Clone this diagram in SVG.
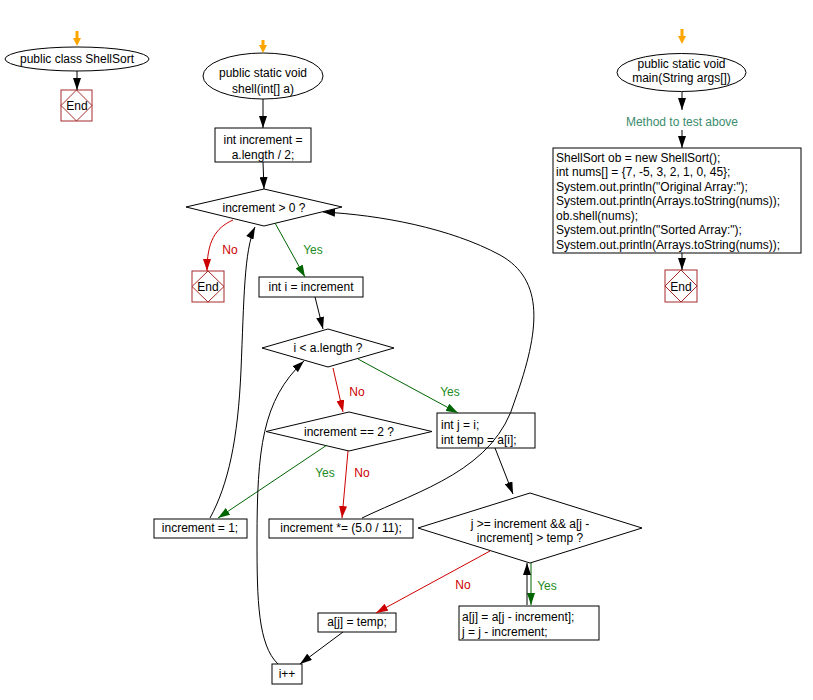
<svg xmlns="http://www.w3.org/2000/svg" width="813" height="700" viewBox="0 0 813 700">
<style>
text{font-family:"Liberation Sans",Arial,sans-serif;font-size:12px;fill:#000}
.c{text-anchor:middle}
.shape{fill:#fff;stroke:#000;stroke-width:1}
.endb{fill:#fff;stroke:#a52a2a;stroke-width:1}
.endd{fill:none;stroke:#a52a2a;stroke-width:1}
.e{fill:none;stroke:#000;stroke-width:1}
.r{fill:none;stroke:#cc0000;stroke-width:1}
.g{fill:none;stroke:#006400;stroke-width:1}
.o{fill:#ffa500;stroke:none}
.lr{fill:#cc0000}
.lg{fill:#228b22}
.lt{fill:#3c8c6e}
</style>
<defs>
<marker id="ab" viewBox="0 0 12 8" refX="12" refY="4" markerWidth="12" markerHeight="8" markerUnits="userSpaceOnUse" orient="auto"><path d="M0,0 L12,4 L0,8 z" fill="#000"/></marker>
<marker id="ar" viewBox="0 0 12 8" refX="12" refY="4" markerWidth="12" markerHeight="8" markerUnits="userSpaceOnUse" orient="auto"><path d="M0,0 L12,4 L0,8 z" fill="#cc0000"/></marker>
<marker id="ag" viewBox="0 0 12 8" refX="12" refY="4" markerWidth="12" markerHeight="8" markerUnits="userSpaceOnUse" orient="auto"><path d="M0,0 L12,4 L0,8 z" fill="#006400"/></marker>
</defs>

<g id="class-start">
<ellipse class="shape" cx="77" cy="59" rx="72" ry="12"/>
<text class="c" x="77" y="63">public class ShellSort</text>
</g>
<g id="class-end">
<rect class="endb" x="61" y="90" width="31" height="31"/>
<path class="endd" d="M76.5,90 L92,105.5 L76.5,121 L61,105.5 z"/>
<text class="c" x="77" y="110">End</text>
</g>

<g id="shell-start">
<ellipse class="shape" cx="263" cy="76" rx="60" ry="23"/>
<text class="c" x="263" y="77">public static void</text>
<text class="c" x="263" y="93">shell(int[] a)</text>
</g>
<g id="init-increment">
<rect class="shape" x="215" y="128" width="96" height="34"/>
<text class="c" x="263" y="144">int increment =</text>
<text class="c" x="263" y="159">a.length / 2;</text>
</g>
<g id="cond-increment">
<path class="shape" d="M264,189 L342,207 L264,226 L186,207 z"/>
<text class="c" x="264" y="212">increment &gt; 0 ?</text>
</g>
<g id="shell-end">
<rect class="endb" x="192" y="271" width="32" height="31"/>
<path class="endd" d="M208,271 L224,286.5 L208,302 L192,286.5 z"/>
<text class="c" x="208" y="291">End</text>
</g>
<g id="init-i">
<rect class="shape" x="259" y="277" width="104" height="20"/>
<text class="c" x="311" y="291">int i = increment</text>
</g>
<g id="cond-i">
<path class="shape" d="M328,329 L394,348 L328,367 L262,348 z"/>
<text class="c" x="328" y="352">i &lt; a.length ?</text>
</g>
<g id="init-j">
<rect class="shape" x="437" y="413" width="98" height="35"/>
<text x="441" y="429">int j = i;</text>
<text x="441" y="444">int temp = a[i];</text>
</g>
<g id="cond-two">
<path class="shape" d="M349,412 L432,431.5 L349,451 L266,431.5 z"/>
<text class="c" x="349" y="436">increment == 2 ?</text>
</g>
<g id="set-one">
<rect class="shape" x="154" y="519" width="93" height="19"/>
<text class="c" x="200" y="532">increment = 1;</text>
</g>
<g id="set-mult">
<rect class="shape" x="269" y="519" width="144" height="19"/>
<text class="c" x="341" y="532">increment *= (5.0 / 11);</text>
</g>
<g id="cond-j">
<path class="shape" d="M530,493 L642,528 L530,563 L418,528 z"/>
<text class="c" x="530" y="528">j &gt;= increment &amp;&amp; a[j -</text>
<text class="c" x="530" y="542">increment] &gt; temp ?</text>
</g>
<g id="shift">
<rect class="shape" x="459" y="606" width="140" height="34"/>
<text x="462" y="621">a[j] = a[j - increment];</text>
<text x="462" y="636">j = j - increment;</text>
</g>
<g id="set-temp">
<rect class="shape" x="318" y="613" width="78" height="19"/>
<text class="c" x="357" y="626">a[j] = temp;</text>
</g>
<g id="inc-i">
<rect class="shape" x="272" y="664" width="30" height="20"/>
<text class="c" x="287" y="678">i++</text>
</g>

<g id="main-start">
<ellipse class="shape" cx="681.5" cy="72.5" rx="64.5" ry="19"/>
<text class="c" x="681.5" y="68">public static void</text>
<text class="c" x="681.5" y="82">main(String args[])</text>
</g>
<g id="main-comment">
<text class="c lt" x="682" y="126">Method to test above</text>
</g>
<g id="main-body">
<rect class="shape" x="553" y="148" width="248" height="105"/>
<text x="556" y="162">ShellSort ob = new ShellSort();</text>
<text x="556" y="176">int nums[] = {7, -5, 3, 2, 1, 0, 45};</text>
<text x="556" y="191">System.out.println("Original Array:");</text>
<text x="556" y="205">System.out.println(Arrays.toString(nums));</text>
<text x="556" y="220">ob.shell(nums);</text>
<text x="556" y="234">System.out.println("Sorted Array:");</text>
<text x="556" y="249">System.out.println(Arrays.toString(nums));</text>
</g>
<g id="main-end">
<rect class="endb" x="665" y="270" width="32" height="32"/>
<path class="endd" d="M681,270 L697,286 L681,302 L665,286 z"/>
<text class="c" x="681" y="291">End</text>
</g>

<g id="connectors">
<path class="o" d="M75.5,31 L78.5,31 L78.5,38 L81,38 L77,46 L73,38 L75.5,38 z"/>
<path class="e" d="M77,71 L77,90" marker-end="url(#ab)"/>
<path class="o" d="M261.5,40 L264.5,40 L264.5,45 L267,45 L263,53 L259,45 L261.5,45 z"/>
<path class="e" d="M263,99 L263,128" marker-end="url(#ab)"/>
<path class="e" d="M263,162 L264,189" marker-end="url(#ab)"/>
<path class="r" d="M233,220 C215,228 207,242 207,271" marker-end="url(#ar)"/>
<path class="g" d="M275,223 L305,277" marker-end="url(#ag)"/>
<path class="e" d="M315,297 L323,329" marker-end="url(#ab)"/>
<path class="r" d="M333,368 L343,412" marker-end="url(#ar)"/>
<path class="g" d="M358,359 L458,413" marker-end="url(#ag)"/>
<path class="g" d="M327,445 L218,518" marker-end="url(#ag)"/>
<path class="r" d="M348,451 L342,518" marker-end="url(#ar)"/>
<path class="e" d="M210,518 C228,485 238,440 241,370 C244,300 244,250 255,227" marker-end="url(#ab)"/>
<path class="e" d="M362,518 C420,490 495,470 515,400 C540,330 545,280 500,255 C450,228 380,215 323,212" marker-end="url(#ab)"/>
<path class="e" d="M495,448 L513,494" marker-end="url(#ab)"/>
<path class="g" d="M531,563 L531,605" marker-end="url(#ag)"/>
<path class="e" d="M527,605 L527,563" marker-end="url(#ab)"/>
<path class="r" d="M490,551 L376,613" marker-end="url(#ar)"/>
<path class="e" d="M343,632 L300,664" marker-end="url(#ab)"/>
<path class="e" d="M278,664 C258,645 257,600 257,540 C257,450 262,400 304,361" marker-end="url(#ab)"/>
<path class="o" d="M680.5,29 L683.5,29 L683.5,36 L686,36 L682,44 L678,36 L680.5,36 z"/>
<path class="e" d="M682,92 L682,110" marker-end="url(#ab)"/>
<path class="e" d="M682,130 L682,148" marker-end="url(#ab)"/>
<path class="e" d="M682,253 L682,270" marker-end="url(#ab)"/>
<text class="c lr" x="230" y="254">No</text>
<text class="c lg" x="313" y="254">Yes</text>
<text class="c lr" x="357" y="396">No</text>
<text class="c lg" x="450" y="396">Yes</text>
<text class="c lg" x="325" y="477">Yes</text>
<text class="c lr" x="362" y="477">No</text>
<text class="c lr" x="463" y="589">No</text>
<text class="c lg" x="547" y="590">Yes</text>
</g>
</svg>
